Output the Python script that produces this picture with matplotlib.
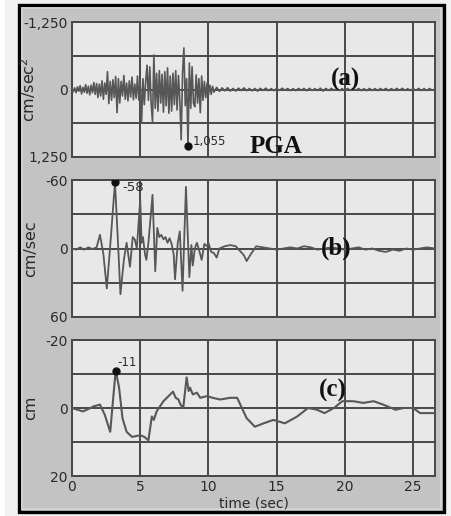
import numpy as np
import matplotlib
matplotlib.use("Agg")
import matplotlib.pyplot as plt
from matplotlib.patches import Rectangle

# ---------------- data ----------------
# (a) acceleration, cm/sec^2 (positive plotted downward)
acc_dt = 0.1          # sampling step of the strong-motion part, starts at 0 s
acc_early = [
    0, 40, -30, 60, -50, 30, -70, 80, -40, 50,
    -90, 70, -60, 100, -80, 60, -130, 90, -110, 150,
    -100, 120, -160, 180, -120, 90, -330, 260, -150, 200,
    -180, 150, -240, 430, -200, 250, -150, 120, -260, 180,
    -120, 210, -160, 140, -230, 190, -100, 160, -250, 200,
    -180, 620, -200, 280, -150, -450, 200, -420, 250, 600,
    -640, 350, -300, 400, -350, 250, -280, 420, -330, 300,
    -400, 440, -250, 400, -300, 280, -350, 380, -260, 200,
    930, -300, -770, 300, -200, 1055, -490, 350, -420, 250,
    320, -270, 250, -200, 430, -250, 200, -150, 150, -120,
    100, -80, 90, -60, 50,
]
acc_late_start = 10.6
acc_late_dt = 0.2
acc_late = [
    -40, 35, -30, 25, -35, 30, -20, 28, -25, 20, -30, 22, -18, 25, -20, 30, -22, 18, -25, 20,
    -15, 22, -20, 18, -24, 15, -18, 20, -16, 22, -20, 15, -18, 24, -22, 18, -15, 20, -25, 30,
    -20, 18, -22, 15, -18, 20, -15, 25, -20, 18, -22, 16, -18, 20, -15, 22, -20, 18, -16, 20,
    -18, 15, -20, 22, -16, 18, -20, 15, -22, 18, -15, 20, -18, 16, -20, 18, -15, 20, -18, 15,
    -10,
]

# (b) velocity, cm/sec
vel_t = [0, 0.3, 0.6, 0.9, 1.2, 1.5, 1.8, 2.05, 2.3, 2.55, 2.85, 3.15, 3.35, 3.55, 3.8, 4.0,
         4.25, 4.45, 4.6, 4.75, 5.0, 5.1, 5.2, 5.35, 5.45, 5.6, 5.9, 6.1, 6.25, 6.4, 6.55, 6.7,
         6.85, 7.0, 7.15, 7.3, 7.45, 7.55, 7.75, 7.9, 8.1, 8.35, 8.6, 8.75, 8.85, 9.0, 9.15,
         9.35, 9.5, 9.7, 9.9, 10.0, 10.2, 10.4, 10.6, 10.8, 11.2, 11.6, 12.0, 12.3, 12.6, 12.8,
         13.1, 13.5, 14.0, 14.5, 15.0, 15.5, 16.0, 16.5, 17.0, 17.5, 18.0, 18.5, 19.0, 19.5,
         20.0, 20.5, 21.0, 21.5, 22.0, 22.5, 23.0, 23.5, 24.0, 24.5, 25.0, 25.5, 26.0, 26.6]
vel_v = [0, 1, -1, 1, -1, 0.5, -1, -12, 5, 35, -10, -58, -10, 40, 10, -5,
         16, -10, -8, 0, -43, -5, -10, 5, 10, -5, -47, 20, -18, -10, -12, -8,
         -10, -5, -9, -4, 5, 27, -5, -15, 37, -54, 25, -3, 15, 0, -5,
         3, 10, -4, -2, -5, 3, 4, 8, 0, -2, -3, -2, 2, 6, 11,
         5, -2, -1, 0, 1, 0, -1, 0, -2, -1, 1, 0, -1, 0,
         1, 0, -1, 1, 0, 2, 3, 1, 2, 0, 1, 0, -1, 0]

# (c) displacement, cm
disp_t = [0, 0.4, 0.8, 1.2, 1.6, 2.05, 2.4, 2.8, 3.0, 3.2, 3.45, 3.7, 4.0, 4.4, 5.0, 5.3,
          5.6, 5.85, 6.0, 6.2, 6.7, 7.4, 7.6, 7.8, 7.95, 8.15, 8.4, 8.55, 8.65, 8.85, 9.15,
          9.4, 9.9, 10.3, 10.85, 11.6, 12.1, 12.8, 13.4, 14.05, 14.75, 15.6, 16.5, 17.3,
          17.95, 18.5, 19.2, 19.8, 20.6, 21.35, 22.1, 22.8, 23.7, 24.3, 25.0, 25.5, 26.6]
disp_v = [0, 0.5, 1, 0.3, -0.5, -1, 2, 7, -2, -11, -6, 3, 7, 8.5, 8, 8.5,
          9.5, 2.5, 3.5, 1, -2, -4.8, -3, -2.5, -1, 0, -9, -5, -6, -4, -4.5,
          -3, -3.5, -3, -2.5, -3, -3, 3, 5.5, 4.5, 3.5, 4.5, 2.5, 0,
          0.5, 1.5, 0, -2, -2, -1.5, -2, -1, 0.5, 0, 0, 1.5, 1.5]

# peaks
pga_t, pga_v = 8.5, 1055
pgv_t, pgv_v = 3.15, -58
pgd_t, pgd_v = 3.2, -11

acc_lim, vel_lim, disp_lim = 1250, 60, 20
x_max = 26.6
x_ticks = [0, 5, 10, 15, 20, 25]

# ---------------- figure ----------------
W, H = 452, 516
fig = plt.figure(figsize=(W / 100, H / 100), dpi=100)
fig.patch.set_facecolor('#f1f1f1')


def fx(px):
    return px / W


def fy(py):
    return 1 - py / H


edge = Rectangle((0, 0), fx(5), 1, transform=fig.transFigure, facecolor='white',
                 edgecolor='none', zorder=-11)
fig.patches.append(edge)
frame = Rectangle((fx(19), fy(512)), fx(444) - fx(19), fy(5) - fy(512),
                  transform=fig.transFigure, facecolor='#c3c3c3',
                  edgecolor='black', lw=2.4, zorder=-10)
fig.patches.append(frame)
inner = Rectangle((fx(22), fy(509)), fx(441) - fx(22), fy(8) - fy(509),
                  transform=fig.transFigure, facecolor='none',
                  edgecolor='#d6d6d6', lw=1.2, zorder=-9)
fig.patches.append(inner)

GRID = '#484848'
LINE = '#575757'
TXT = '#2a2a2a'

acc_t = np.concatenate([np.arange(len(acc_early)) * acc_dt,
                        acc_late_start + np.arange(len(acc_late)) * acc_late_dt])
acc_v = np.array(acc_early + acc_late, dtype=float)

panels = [
    (22, 157, acc_t, acc_v, acc_lim, 'cm/sec$^2$', 1.2),
    (180, 317, vel_t, vel_v, vel_lim, 'cm/sec', 1.3),
    (340, 476, disp_t, disp_v, disp_lim, 'cm', 1.5),
]
axes = []
for i, (top, bot, t, v, lim, ylab, lw) in enumerate(panels):
    ax = fig.add_axes([fx(72), fy(bot), fx(435) - fx(72), fy(top) - fy(bot)])
    ax.set_zorder(1)
    ax.set_facecolor('#e8e8e8')
    ax.plot(t, v, color=LINE, lw=lw, zorder=3)
    ax.set_xlim(0, x_max)
    ax.set_ylim(lim, -lim)
    yt = [-lim, -lim / 2, 0, lim / 2, lim]
    ax.set_yticks(yt)
    ax.set_yticklabels([f"{-lim:,}", '', '0', '', f"{lim:,}"])
    ax.set_xticks(x_ticks)
    if i < 2:
        ax.set_xticklabels([])
    else:
        ax.set_xticklabels([str(x) for x in x_ticks])
        ax.set_xlabel('time (sec)', fontsize=10, color=TXT, labelpad=1.5)
    ax.tick_params(length=0, labelsize=10, colors=TXT, pad=3)
    ax.grid(True, color=GRID, lw=1.4, zorder=1)
    ax.set_axisbelow(True)
    for s in ax.spines.values():
        s.set_color(GRID)
        s.set_linewidth(1.4)
    ax.set_ylabel(ylab, fontsize=11.5, color=TXT)
    ax.yaxis.set_label_coords(-0.094, 0.5)
    axes.append(ax)

ax_a, ax_b, ax_c = axes

mk = dict(marker='o', color='#111111', ms=5, ls='none', zorder=5)
ax_a.plot([pga_t], [pga_v], **mk)
ax_a.annotate(f"{pga_v:,}", (pga_t, pga_v), xytext=(3.5, 3.5), textcoords='offset points',
              fontsize=8.5, color=TXT, va='center', ha='left')
ax_b.plot([pgv_t], [pgv_v], **mk)
ax_b.annotate(f"{pgv_v}", (pgv_t, pgv_v), xytext=(5, -4), textcoords='offset points',
              fontsize=9.5, color=TXT, va='center', ha='left')
ax_c.plot([pgd_t], [pgd_v], **mk)
ax_c.annotate(f"{pgd_v}", (pgd_t, pgd_v), xytext=(1.5, 5.5), textcoords='offset points',
              fontsize=8.5, color=TXT, va='center', ha='left')

lab = dict(fontsize=18, fontweight='bold', family='Liberation Serif', color='#111111',
           ha='center', va='center', zorder=10)
fig.text(fx(346), fy(79), '(a)', **lab)
fig.text(fx(276), fy(146), 'PGA', **lab)
fig.text(fx(336), fy(248), '(b)', **lab)
fig.text(fx(333), fy(390), '(c)', **lab)

fig.savefig('out.png', dpi=100, facecolor=fig.get_facecolor())
